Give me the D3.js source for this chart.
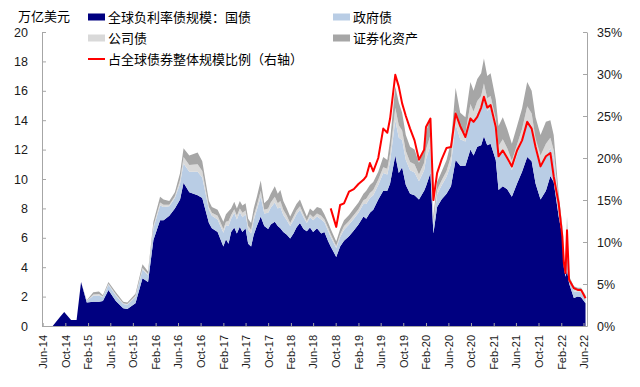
<!DOCTYPE html>
<html>
<head>
<meta charset="utf-8">
<script src="https://cdnjs.cloudflare.com/ajax/libs/d3/7.8.5/d3.min.js"></script>
<style>
  body { margin: 0; background: #fff; }
  svg { display: block; font-family: Arial, "Liberation Sans", "Noto Sans CJK SC", sans-serif; }
  .axis path, .axis line { stroke: #a6a6a6; }
  .axis text { fill: #1a1a1a; }
</style>
</head>
<body>
<script>
// weekly-ish readings of the chart (万亿美元), ratio in %
var dates = ["2014-06-01","2014-07-25","2014-09-01","2014-09-25","2014-11-01","2014-12-01","2014-12-25","2015-01-25","2015-03-01","2015-04-01",
  "2015-04-22","2015-05-22","2015-07-01","2015-08-10","2015-09-01","2015-10-15","2015-11-22","2015-12-22","2016-01-20","2016-02-25",
  "2016-03-15","2016-04-15","2016-05-15","2016-06-12","2016-07-01","2016-08-01","2016-09-15","2016-10-10","2016-11-15","2016-12-01",
  "2017-01-01","2017-02-01","2017-02-15","2017-03-01","2017-03-15","2017-04-01","2017-04-15","2017-05-01","2017-05-15","2017-06-01",
  "2017-06-15","2017-07-01","2017-07-15","2017-08-01","2017-08-22","2017-09-10","2017-10-01","2017-10-15","2017-11-06","2017-11-22",
  "2017-12-06","2017-12-22","2018-01-10","2018-01-28","2018-02-15","2018-03-03","2018-03-22","2018-04-10","2018-04-28","2018-05-15",
  "2018-06-01","2018-06-22","2018-07-15","2018-08-01","2018-08-22","2018-09-04","2018-10-04","2018-10-25","2018-11-15","2018-12-12",
  "2019-01-07","2019-02-01","2019-02-28","2019-03-15","2019-04-04","2019-04-22","2019-05-19","2019-06-15","2019-07-07","2019-07-22",
  "2019-08-19","2019-09-07","2019-09-25","2019-10-15","2019-11-07","2019-12-01","2019-12-25","2020-01-22","2020-02-01","2020-02-25",
  "2020-03-12","2020-04-01","2020-04-25","2020-05-22","2020-06-15","2020-07-10","2020-08-04","2020-09-01","2020-09-28","2020-10-15",
  "2020-11-04","2020-11-25","2020-12-10","2020-12-28","2021-01-15","2021-02-12","2021-02-27","2021-03-22","2021-04-15","2021-05-10",
  "2021-06-07","2021-07-04","2021-08-01","2021-08-25","2021-09-15","2021-10-12","2021-11-10","2021-12-04","2021-12-22","2022-01-18",
  "2022-02-07","2022-02-15","2022-02-24","2022-03-04","2022-03-15","2022-04-10","2022-05-01","2022-05-19","2022-06-12"];

var sovereign = [0,0,0.6,0.95,0.4,0.4,3.0,1.6,1.65,1.65,
  1.7,2.45,1.7,1.2,1.15,1.55,3.25,3.0,5.85,7.2,
  7.2,7.5,8.0,8.6,9.75,9.1,8.9,8.7,7.0,6.65,
  6.4,5.4,5.9,5.6,6.4,6.7,6.3,6.75,6.4,6.65,
  5.6,5.4,6.2,6.8,7.45,6.8,6.6,6.9,7.1,6.8,
  6.65,6.4,6.2,5.95,6.3,6.7,7.0,6.6,6.45,6.7,
  6.4,6.65,6.3,6.4,5.75,5.4,4.7,5.4,5.8,6.1,
  6.5,6.9,7.45,7.3,7.7,7.9,8.6,9.2,9.2,9.7,
  11.6,10.4,10.8,9.6,9.0,8.9,8.6,9.2,9.5,10.4,
  6.3,8.1,8.6,9.0,9.5,11.3,10.9,10.9,12.0,11.6,
  12.2,12.3,12.9,12.3,12.4,11.3,9.25,9.5,9.3,8.8,
  9.7,10.5,11.5,11.2,9.7,8.6,9.2,10.2,9.8,7.45,
  6.1,4.0,3.35,3.8,2.9,1.9,2.0,1.95,1.55];

var government = [0,0,0,0,0,0,0,0.1,0.4,0.42,
  0.25,0.35,0.38,0.3,0.3,0.42,0.6,0.45,0.8,1.0,
  0.9,0.65,0.7,1.1,1.3,1.4,1.6,1.4,0.9,0.85,
  0.85,0.95,0.95,1.2,0.9,1.0,0.95,1.0,1.0,0.95,
  0.95,0.9,1.0,1.1,1.35,0.85,1.1,1.15,1.3,1.2,
  1.45,1.15,1.0,0.85,0.9,0.9,0.9,0.8,0.55,0.7,
  0.8,0.8,0.95,0.65,0.7,0.65,0.6,0.65,0.75,0.8,
  0.8,0.8,0.85,1.0,1.0,1.0,1.0,1.2,1.1,1.5,
  2.4,2.4,1.85,1.7,1.6,1.55,1.25,1.4,1.85,1.9,
  0.6,0.85,0.95,1.15,1.5,2.45,1.8,1.65,2.3,2.2,
  2.3,2.45,2.65,2.35,2.4,2.05,2.2,2.35,2.05,1.8,
  1.95,2.15,2.55,2.4,2.25,2.2,2.35,1.9,1.6,0.8,
  0.35,0.3,0.35,2.4,0.3,0.45,0.35,0.35,0.3];

var corporate = [0,0,0,0,0,0,0,0.02,0.1,0.1,
  0.05,0.08,0.08,0.05,0.05,0.08,0.1,0.08,0.15,0.2,
  0.15,0.1,0.12,0.25,0.45,0.45,0.5,0.45,0.2,0.2,
  0.25,0.25,0.25,0.35,0.25,0.25,0.25,0.25,0.3,0.25,
  0.25,0.25,0.3,0.3,0.4,0.25,0.3,0.35,0.4,0.35,
  0.4,0.35,0.3,0.2,0.25,0.25,0.25,0.2,0.15,0.2,
  0.2,0.2,0.25,0.2,0.2,0.2,0.15,0.2,0.25,0.25,
  0.25,0.25,0.25,0.35,0.35,0.35,0.35,0.4,0.4,0.55,
  0.85,0.85,0.65,0.6,0.55,0.55,0.45,0.5,0.65,0.7,
  0.2,0.3,0.35,0.4,0.55,0.9,0.65,0.6,0.8,0.8,
  0.8,0.9,0.95,0.85,0.85,0.75,0.8,0.85,0.75,0.65,
  0.7,0.75,0.9,0.85,0.8,0.8,0.85,0.7,0.55,0.3,
  0.1,0.1,0.1,0.45,0.07,0.12,0.1,0.1,0.1];

var securitized = [0,0,0,0,0,0,0,0.03,0.15,0.18,
  0.1,0.12,0.14,0.1,0.1,0.15,0.25,0.17,0.3,0.4,
  0.35,0.25,0.28,0.45,0.6,0.65,0.8,0.65,0.4,0.4,
  0.4,0.5,0.5,0.65,0.45,0.5,0.5,0.5,0.5,0.5,
  0.5,0.45,0.5,0.6,0.7,0.45,0.6,0.6,0.7,0.65,
  0.75,0.6,0.5,0.45,0.45,0.45,0.45,0.4,0.3,0.4,
  0.4,0.45,0.5,0.35,0.35,0.35,0.3,0.35,0.4,0.4,
  0.45,0.45,0.45,0.55,0.55,0.55,0.55,0.7,0.6,0.9,
  1.45,1.55,1.2,1.1,1.05,1.0,0.8,0.9,1.2,1.2,
  0.35,0.55,0.6,0.75,0.95,1.55,1.15,1.05,1.5,1.4,
  1.5,1.55,1.7,1.5,1.55,1.3,1.35,1.5,1.3,1.15,
  1.25,1.4,1.65,1.55,1.45,1.4,1.5,1.2,1.05,0.45,
  0.2,0.2,0.2,0.8,0.13,0.23,0.15,0.2,0.15];

var ratio = [null,null,null,null,null,null,null,null,null,null,
  null,null,null,null,null,null,null,null,null,null,
  null,null,null,null,null,null,null,null,null,null,
  null,null,null,null,null,null,null,null,null,null,
  null,null,null,null,null,null,null,null,null,null,
  null,null,null,null,null,null,null,null,null,null,
  null,null,null,null,null,14.0,11.8,14.4,14.6,16.0,
  16.3,16.9,17.4,17.8,19.4,18.4,20.0,23.5,23.0,24.7,
  29.9,28.5,26.5,25.0,23.5,22.1,19.8,21.0,23.7,24.7,
  15.0,18.2,19.8,21.2,21.3,25.3,23.8,22.5,24.7,24.3,
  24.9,26.0,27.3,26.0,26.3,23.7,20.2,20.9,20.0,19.0,
  20.9,22.1,24.3,23.5,21.3,19.0,20.2,20.6,17.8,14.6,
  10.6,7.5,6.3,11.4,5.5,4.5,4.3,4.3,3.3];

var tickLabels = ["Jun-14","Oct-14","Feb-15","Jun-15","Oct-15","Feb-16","Jun-16","Oct-16","Feb-17","Jun-17","Oct-17","Feb-18","Jun-18",
  "Oct-18","Feb-19","Jun-19","Oct-19","Feb-20","Jun-20","Oct-20","Feb-21","Jun-21","Oct-21","Feb-22","Jun-22"];

var keys = ["sovereign", "government", "corporate", "securitized"];
var names = ["全球负利率债规模：国债", "政府债", "公司债", "证券化资产"];
var colors = ["#000080", "#b9cde5", "#d9d9d9", "#a6a6a6"];
var ratioName = "占全球债券整体规模比例（右轴）";

var W = 640, H = 387,
    plotLeft = 42, plotRight = 587, plotTop = 32, plotBottom = 326;

var parseDay = d3.timeParse("%Y-%m-%d"),
    parseTick = d3.timeParse("%b-%y");

var rows = dates.map(function(d, i) {
  return { date: parseDay(d), sovereign: sovereign[i], government: government[i],
           corporate: corporate[i], securitized: securitized[i], ratio: ratio[i] };
});

var x = d3.scaleTime()
    .domain([new Date(2014, 4, 28), new Date(2022, 5, 20)])
    .range([plotLeft, plotRight]);
var y = d3.scaleLinear().domain([0, 20]).range([plotBottom, plotTop]);
var y2 = d3.scaleLinear().domain([0, 35]).range([plotBottom, plotTop]);

var svg = d3.select("body").append("svg")
    .attr("width", W)
    .attr("height", H);

var stacked = d3.stack().keys(keys)(rows);

var area = d3.area()
    .x(function(d) { return x(d.data.date); })
    .y0(function(d) { return y(d[0]); })
    .y1(function(d) { return y(d[1]); });

svg.selectAll(".layer")
    .data(stacked)
    .enter().append("path")
    .attr("class", "layer")
    .attr("fill", function(d, i) { return colors[i]; })
    .attr("d", area);

var line = d3.line()
    .defined(function(d) { return d.ratio != null; })
    .x(function(d) { return x(d.date); })
    .y(function(d) { return y2(d.ratio); });

svg.append("path")
    .datum(rows)
    .attr("fill", "none")
    .attr("stroke", "#ff0000")
    .attr("stroke-width", 2)
    .attr("stroke-linejoin", "round")
    .attr("d", line);

// axes
var gx = svg.append("g")
    .attr("class", "axis")
    .attr("transform", "translate(0," + plotBottom + ")")
    .call(d3.axisBottom(x)
      .tickValues(tickLabels.map(parseTick))
      .tickFormat(d3.timeFormat("%b-%y"))
      .tickSize(-3)
      .tickSizeOuter(0));
gx.selectAll("text")
    .attr("transform", "rotate(-90)")
    .attr("x", -9)
    .attr("y", 0)
    .attr("dy", "0.35em")
    .style("text-anchor", "end")
    .style("font-size", "11px");

var gy = svg.append("g")
    .attr("class", "axis")
    .attr("transform", "translate(" + plotLeft + ",0)")
    .call(d3.axisLeft(y)
      .tickValues(d3.range(0, 21, 2))
      .tickSize(-4)
      .tickSizeOuter(0)
      .tickPadding(14));
gy.selectAll("text").style("font-size", "12.5px");

var gy2 = svg.append("g")
    .attr("class", "axis")
    .attr("transform", "translate(" + plotRight + ",0)")
    .call(d3.axisRight(y2)
      .tickValues(d3.range(0, 36, 5))
      .tickFormat(function(d) { return d + "%"; })
      .tickSize(-4)
      .tickSizeOuter(0)
      .tickPadding(10));
gy2.selectAll("text").style("font-size", "12.5px");

// unit
svg.append("text")
    .attr("x", 18)
    .attr("y", 21)
    .style("font-size", "13px")
    .text("万亿美元");

// legend
var legendPos = [[88, 17], [333, 17], [88, 38], [333, 38]];
var lg = svg.selectAll(".lg")
    .data(names)
    .enter().append("g")
    .attr("class", "lg")
    .attr("transform", function(d, i) { return "translate(" + legendPos[i][0] + "," + legendPos[i][1] + ")"; });
lg.append("rect")
    .attr("x", 0).attr("y", -3.5)
    .attr("width", 17).attr("height", 7)
    .attr("fill", function(d, i) { return colors[i]; });
lg.append("text")
    .attr("x", 20)
    .attr("dy", "0.36em")
    .style("font-size", "13px")
    .text(function(d) { return d; });

var lr = svg.append("g").attr("transform", "translate(88,59)");
lr.append("line")
    .attr("x1", 0).attr("x2", 17)
    .attr("stroke", "#ff0000")
    .attr("stroke-width", 2);
lr.append("text")
    .attr("x", 20)
    .attr("dy", "0.36em")
    .style("font-size", "13px")
    .text(ratioName);
</script>
</body>
</html>
